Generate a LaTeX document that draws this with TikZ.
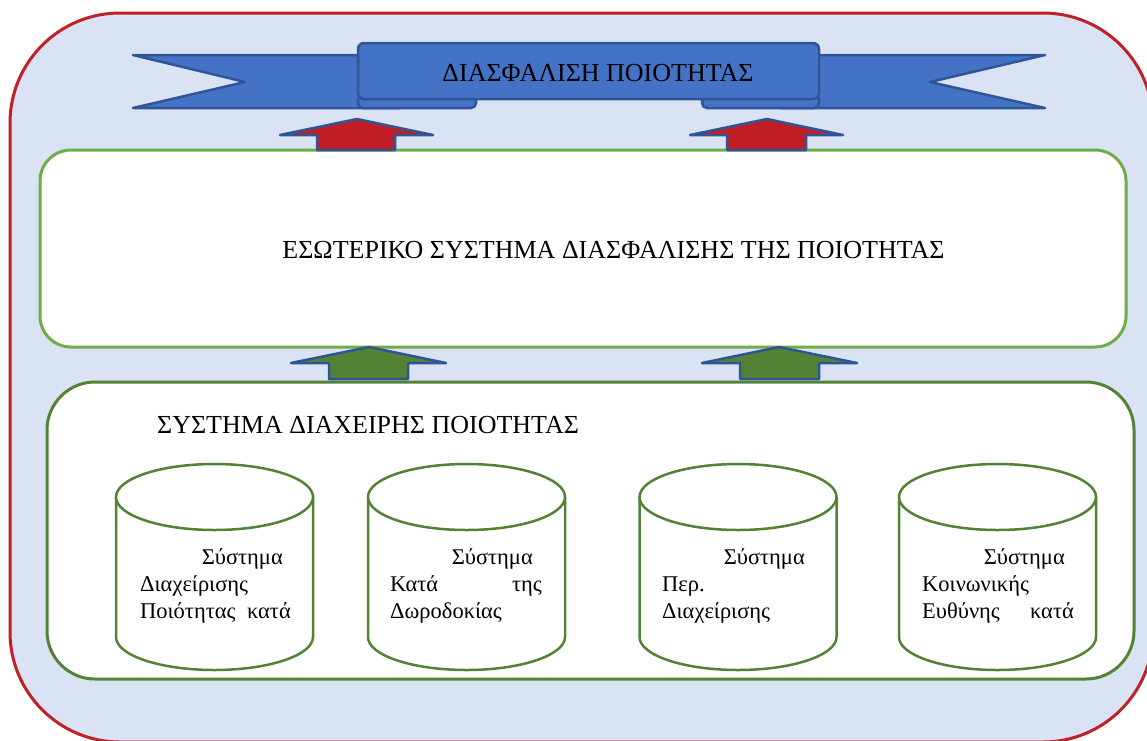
\documentclass[tikz,border=0pt]{standalone}
\usepackage{fontspec}
\setmainfont{Liberation Serif}
\definecolor{bgblue}{RGB}{218,227,243}
\definecolor{redline}{RGB}{192,32,40}
\definecolor{ltgreen}{RGB}{112,173,71}
\definecolor{dkgreen}{RGB}{84,130,53}
\definecolor{bannerblue}{RGB}{68,114,196}
\definecolor{darkblue}{RGB}{47,85,151}
\definecolor{arrowred}{RGB}{192,30,38}
\newcommand{\drawcyl}[1]{%
  \fill[white] ({#1-98.5},497) -- ({#1-98.5},637) .. controls ({#1-98.5},655.2) and ({#1-54.4},670) .. ({#1},670) .. controls ({#1+54.4},670) and ({#1+98.5},655.2) .. ({#1+98.5},637) -- ({#1+98.5},497) -- cycle;
  \draw[cylline] ({#1-98.5},497) -- ({#1-98.5},637) .. controls ({#1-98.5},655.2) and ({#1-54.4},670) .. ({#1},670) .. controls ({#1+54.4},670) and ({#1+98.5},655.2) .. ({#1+98.5},637) -- ({#1+98.5},497);
  \draw[cylline,fill=white] (#1,497) ellipse [x radius=98.5, y radius=33];
}
\begin{document}
\begin{tikzpicture}[x=1pt,y=-1pt,
  cylline/.style={draw=dkgreen,line width=2.5pt},
  bluebox/.style={fill=bannerblue,draw=darkblue,line width=2.5pt,line join=round},
  blockarrow/.style={draw=darkblue,line width=2.5pt,line join=round},
  headtext/.style={inner sep=0pt,font=\fontsize{26}{30}\selectfont},
  cyltext/.style={inner sep=0pt,font=\fontsize{22.5}{26}\selectfont}]
\useasboundingbox (0,0) rectangle (1147,740);
\clip (0,0) rectangle (1147,740);
% outer frame
\draw[fill=bgblue,draw=redline,line width=3pt,rounded corners=110pt] (10,13) rectangle (1153,742);
% banner
\draw[bluebox] (133,55) -- (400,55) -- (400,108) -- (133,108) -- (245,82) -- cycle;
\draw[bluebox] (1045,55) -- (780,55) -- (780,108) -- (1045,108) -- (930,82) -- cycle;
\draw[bluebox,rounded corners=5pt] (358,94) rectangle (476,108);
\draw[bluebox,rounded corners=5pt] (702,94) rectangle (819,108);
\draw[bluebox,rounded corners=6pt] (358,43) rectangle (819,99);
\node[headtext,anchor=base] (title) at (598,81) {ΔΙΑΣΦΑΛΙΣΗ ΠΟΙΟΤΗΤΑΣ};
% middle box
\draw[fill=white,draw=ltgreen,line width=3pt,rounded corners=31pt] (40,150) rectangle (1126,347);
\node[headtext,anchor=base] (internal) at (613.5,258) {ΕΣΩΤΕΡΙΚΟ ΣΥΣΤΗΜΑ ΔΙΑΣΦΑΛΙΣΗΣ ΤΗΣ ΠΟΙΟΤΗΤΑΣ};
% lower box
\draw[fill=white,draw=dkgreen,line width=3pt,rounded corners=48pt] (47,382) rectangle (1134,679);
\node[headtext,anchor=base west] (qms) at (157,433) {ΣΥΣΤΗΜΑ ΔΙΑΧΕΙΡΗΣ ΠΟΙΟΤΗΤΑΣ};
% red arrows
\draw[blockarrow,fill=arrowred] (280,135) -- (357,119) -- (433,135) -- (395,135) -- (395,150) -- (317,150) -- (317,135) -- cycle;
\draw[blockarrow,fill=arrowred] (690,135) -- (767,119) -- (843,135) -- (806,135) -- (806,150) -- (727,150) -- (727,135) -- cycle;
% green arrows
\draw[blockarrow,fill=dkgreen] (291,363) -- (369,347) -- (446,363) -- (408,363) -- (408,379) -- (329,379) -- (329,363) -- cycle;
\draw[blockarrow,fill=dkgreen] (702,363) -- (779,347) -- (857,363) -- (819,363) -- (819,379) -- (740,379) -- (740,363) -- cycle;
% cylinders
\drawcyl{214.5}
\drawcyl{466.5}
\drawcyl{738}
\drawcyl{997.5}
% cylinder texts
\node[cyltext,anchor=base east] (c1a) at (283,564) {Σύστημα};
\node[cyltext,anchor=base west] (c1b) at (140,591) {Διαχείρισης};
\node[cyltext,anchor=base west] (c1c) at (140,618) {Ποιότητας};
\node[cyltext,anchor=base east] (c1d) at (291,618) {κατά};
\node[cyltext,anchor=base east] (c2a) at (533,564) {Σύστημα};
\node[cyltext,anchor=base west] (c2b) at (390,591) {Κατά};
\node[cyltext,anchor=base east] (c2c) at (542,591) {της};
\node[cyltext,anchor=base west] (c2d) at (390,618) {Δωροδοκίας};
\node[cyltext,anchor=base east] (c3a) at (805,564) {Σύστημα};
\node[cyltext,anchor=base west] (c3b) at (662,591) {Περ.};
\node[cyltext,anchor=base west] (c3c) at (662,618) {Διαχείρισης};
\node[cyltext,anchor=base east] (c4a) at (1065,564) {Σύστημα};
\node[cyltext,anchor=base west] (c4b) at (922,591) {Κοινωνικής};
\node[cyltext,anchor=base west] (c4c) at (922,618) {Ευθύνης};
\node[cyltext,anchor=base east] (c4d) at (1074,618) {κατά};
\end{tikzpicture}
\end{document}
